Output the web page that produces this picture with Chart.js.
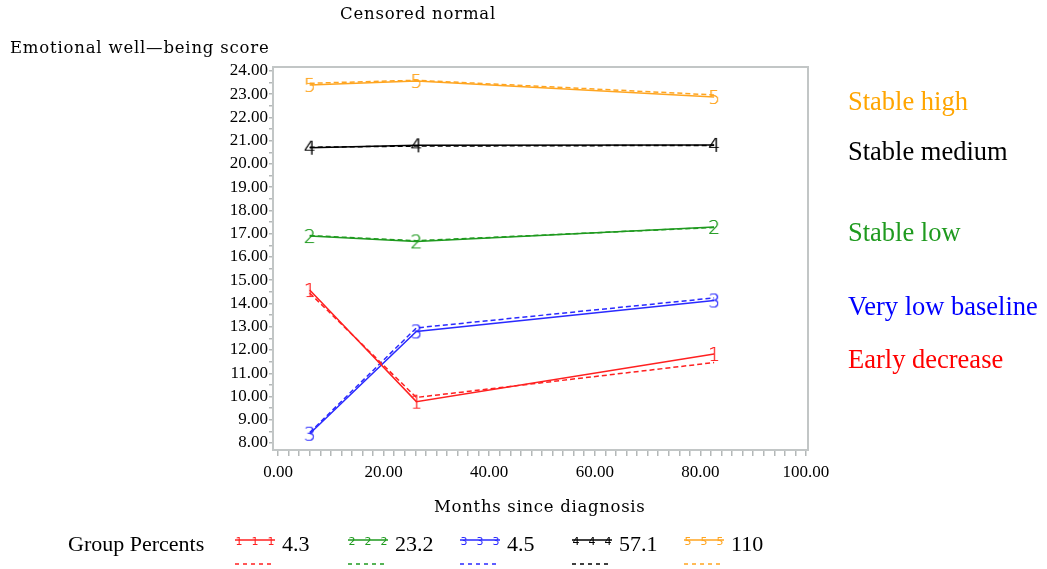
<!DOCTYPE html>
<html>
<head>
<meta charset="utf-8">
<script src="https://cdn.jsdelivr.net/npm/chart.js@4.4.1/dist/chart.umd.min.js"></script>
<style>
  body { margin: 0; background: #fff; }
  #wrap { position: relative; width: 1047px; height: 569px; overflow: hidden; }
  .t { position: absolute; white-space: nowrap; font-family: "DejaVu Serif", serif; color: #000; }
  .lbl { position: absolute; white-space: nowrap; font-family: "Liberation Serif", "Times New Roman", serif; font-size: 26.5px; }
  .leg { position: absolute; white-space: nowrap; font-family: "Liberation Serif", serif; font-size: 22px; color: #000; }
</style>
</head>
<body>
<div id="wrap">
  <canvas id="c" width="1047" height="569"></canvas>
  <div class="t" style="left:340px;top:4px;font-size:16.5px;letter-spacing:0.8px">Censored normal</div>
  <div class="t" style="left:10px;top:38px;font-size:16.5px;letter-spacing:0.8px">Emotional well&#8212;being score</div>
  <div class="t" style="left:434px;top:497px;font-size:16.5px;letter-spacing:0.7px">Months since diagnosis</div>
  <div id="side"></div>
  <div id="legend"></div>
</div>
<script>
// data
var months = [6, 26.2, 82.6];
var groupNames = ["1", "2", "3", "4", "5"];
var groupPercents = ["4.3", "23.2", "4.5", "57.1", "110"];
var observed = [
    [14.58, 9.78, 11.83],
    [16.9, 16.67, 17.29],
    [8.4, 12.8, 14.13],
    [20.7, 20.8, 20.82],
    [23.4, 23.57, 22.88]
];
var predicted = [
    [14.45, 9.96, 11.46],
    [16.92, 16.7, 17.27],
    [8.45, 12.95, 14.24],
    [20.72, 20.77, 20.8],
    [23.47, 23.6, 22.97]
];
var sideLabels = ["Early decrease", "Stable low", "Very low baseline", "Stable medium", "Stable high"];
var xTicks = [0, 20, 40, 60, 80, 100];
var yTicks = [8, 9, 10, 11, 12, 13, 14, 15, 16, 17, 18, 19, 20, 21, 22, 23, 24];

var colors = ["#ff2020", "#1f9a1f", "#2a2aff", "#000000", "#ffa520"];
var sideColors = ["#ff0000", "#1f9a1f", "#0000ff", "#000000", "#ffa500"];

function digitImage(d, color) {
    var c = document.createElement("canvas");
    c.width = 16;
    c.height = 24;
    var ctx = c.getContext("2d");
    ctx.fillStyle = color;
    ctx.font = "200 19px 'DejaVu Sans', sans-serif";
    ctx.textAlign = "center";
    ctx.textBaseline = "middle";
    // twice, so the thin strokes keep their full colour
    ctx.fillText(d, 8, 14);
    ctx.fillText(d, 8, 14);
    return c;
}

var datasets = [];
for (var i = 0; i < groupNames.length; i++) {
    datasets.push({
        label: groupNames[i],
        data: months.map(function (m, k) { return { x: m, y: observed[i][k] }; }),
        borderColor: colors[i],
        borderWidth: 1.5,
        pointStyle: digitImage(groupNames[i], colors[i]),
        pointRadius: 8,
        tension: 0
    });
    datasets.push({
        label: groupNames[i] + " pred",
        data: months.map(function (m, k) { return { x: m, y: predicted[i][k] }; }),
        borderColor: colors[i],
        borderWidth: 1.5,
        borderDash: [5, 3],
        pointRadius: 0,
        tension: 0
    });
}

// minor ticks every 2 months and every half point
var xAll = [];
for (var v = 0; v <= 100; v += 2) xAll.push({ value: v });
var yAll = [];
for (var w = 8; w <= 24; w += 0.5) yAll.push({ value: w });

var framePlugin = {
    id: "frame",
    afterDraw: function (chart) {
        var a = chart.chartArea;
        var ctx = chart.ctx;
        ctx.save();
        ctx.strokeStyle = "#c2c6c6";
        ctx.lineWidth = 2;
        ctx.strokeRect(a.left, a.top, a.right - a.left, a.bottom - a.top);
        ctx.restore();
    }
};

new Chart(document.getElementById("c"), {
    type: "line",
    data: { datasets: datasets },
    options: {
        responsive: false,
        animation: false,
        events: [],
        layout: { padding: { left: 0, right: 239, top: 67, bottom: 0 } },
        plugins: { legend: { display: false }, title: { display: false }, tooltip: { enabled: false } },
        scales: {
            x: {
                type: "linear",
                min: -0.95,
                max: 100.38,
                afterBuildTicks: function (s) { s.ticks = xAll.map(function (t) { return { value: t.value }; }); },
                afterFit: function (s) { s.height = 119; },
                border: { display: false },
                grid: { drawOnChartArea: false, drawTicks: true, tickLength: 6, tickColor: "#b4b8b8", lineWidth: 1.5 },
                ticks: {
                    autoSkip: false,
                    maxRotation: 0,
                    padding: 6,
                    color: "#000",
                    font: { family: "Liberation Serif", size: 17 },
                    callback: function (val) { return xTicks.indexOf(val) >= 0 ? val.toFixed(2) : ""; }
                }
            },
            y: {
                type: "linear",
                min: 7.7,
                max: 24.17,
                afterBuildTicks: function (s) { s.ticks = yAll.map(function (t) { return { value: t.value }; }); },
                afterFit: function (s) { s.width = 273; },
                border: { display: false },
                grid: { drawOnChartArea: false, drawTicks: true, tickLength: 4, tickColor: "#b4b8b8", lineWidth: 1.5 },
                ticks: {
                    autoSkip: false,
                    padding: 1,
                    color: "#000",
                    font: { family: "Liberation Serif", size: 17 },
                    callback: function (val) { return yTicks.indexOf(val) >= 0 ? val.toFixed(2) : ""; }
                }
            }
        }
    },
    plugins: [framePlugin]
});

// group labels at the right
var sideTops = [344, 217, 291, 136, 86];
var side = document.getElementById("side");
for (var j = 0; j < sideLabels.length; j++) {
    var d = document.createElement("div");
    d.className = "lbl";
    d.style.left = "848px";
    d.style.top = sideTops[j] + "px";
    d.style.color = sideColors[j];
    d.textContent = sideLabels[j];
    side.appendChild(d);
}

// legend
var legend = document.getElementById("legend");
var head = document.createElement("div");
head.className = "leg";
head.style.left = "68px";
head.style.top = "531px";
head.textContent = "Group Percents";
legend.appendChild(head);
var legX = [235, 348, 460, 572, 684];
var ns = "http://www.w3.org/2000/svg";
for (var g = 0; g < groupNames.length; g++) {
    var svg = document.createElementNS(ns, "svg");
    svg.setAttribute("width", "44");
    svg.setAttribute("height", "34");
    svg.style.position = "absolute";
    svg.style.left = legX[g] + "px";
    svg.style.top = "533px";
    var l1 = document.createElementNS(ns, "line");
    l1.setAttribute("x1", "0"); l1.setAttribute("x2", "40");
    l1.setAttribute("y1", "7"); l1.setAttribute("y2", "7");
    l1.setAttribute("stroke", colors[g]); l1.setAttribute("stroke-width", "1.3");
    svg.appendChild(l1);
    for (var p = 0; p < 3; p++) {
        var tx = document.createElementNS(ns, "text");
        tx.setAttribute("x", String(4 + p * 16));
        tx.setAttribute("y", "12");
        tx.setAttribute("text-anchor", "middle");
        tx.setAttribute("font-family", "DejaVu Sans");
        tx.setAttribute("font-size", "11");
        tx.setAttribute("fill", colors[g]);
        tx.textContent = groupNames[g];
        svg.appendChild(tx);
    }
    var l2 = document.createElementNS(ns, "line");
    l2.setAttribute("x1", "0"); l2.setAttribute("x2", "40");
    l2.setAttribute("y1", "31"); l2.setAttribute("y2", "31");
    l2.setAttribute("stroke", colors[g]); l2.setAttribute("stroke-width", "1.3");
    l2.setAttribute("stroke-dasharray", "4 4");
    svg.appendChild(l2);
    legend.appendChild(svg);
    var val = document.createElement("div");
    val.className = "leg";
    val.style.left = (legX[g] + 47) + "px";
    val.style.top = "531px";
    val.textContent = groupPercents[g];
    legend.appendChild(val);
}
</script>
</body>
</html>
